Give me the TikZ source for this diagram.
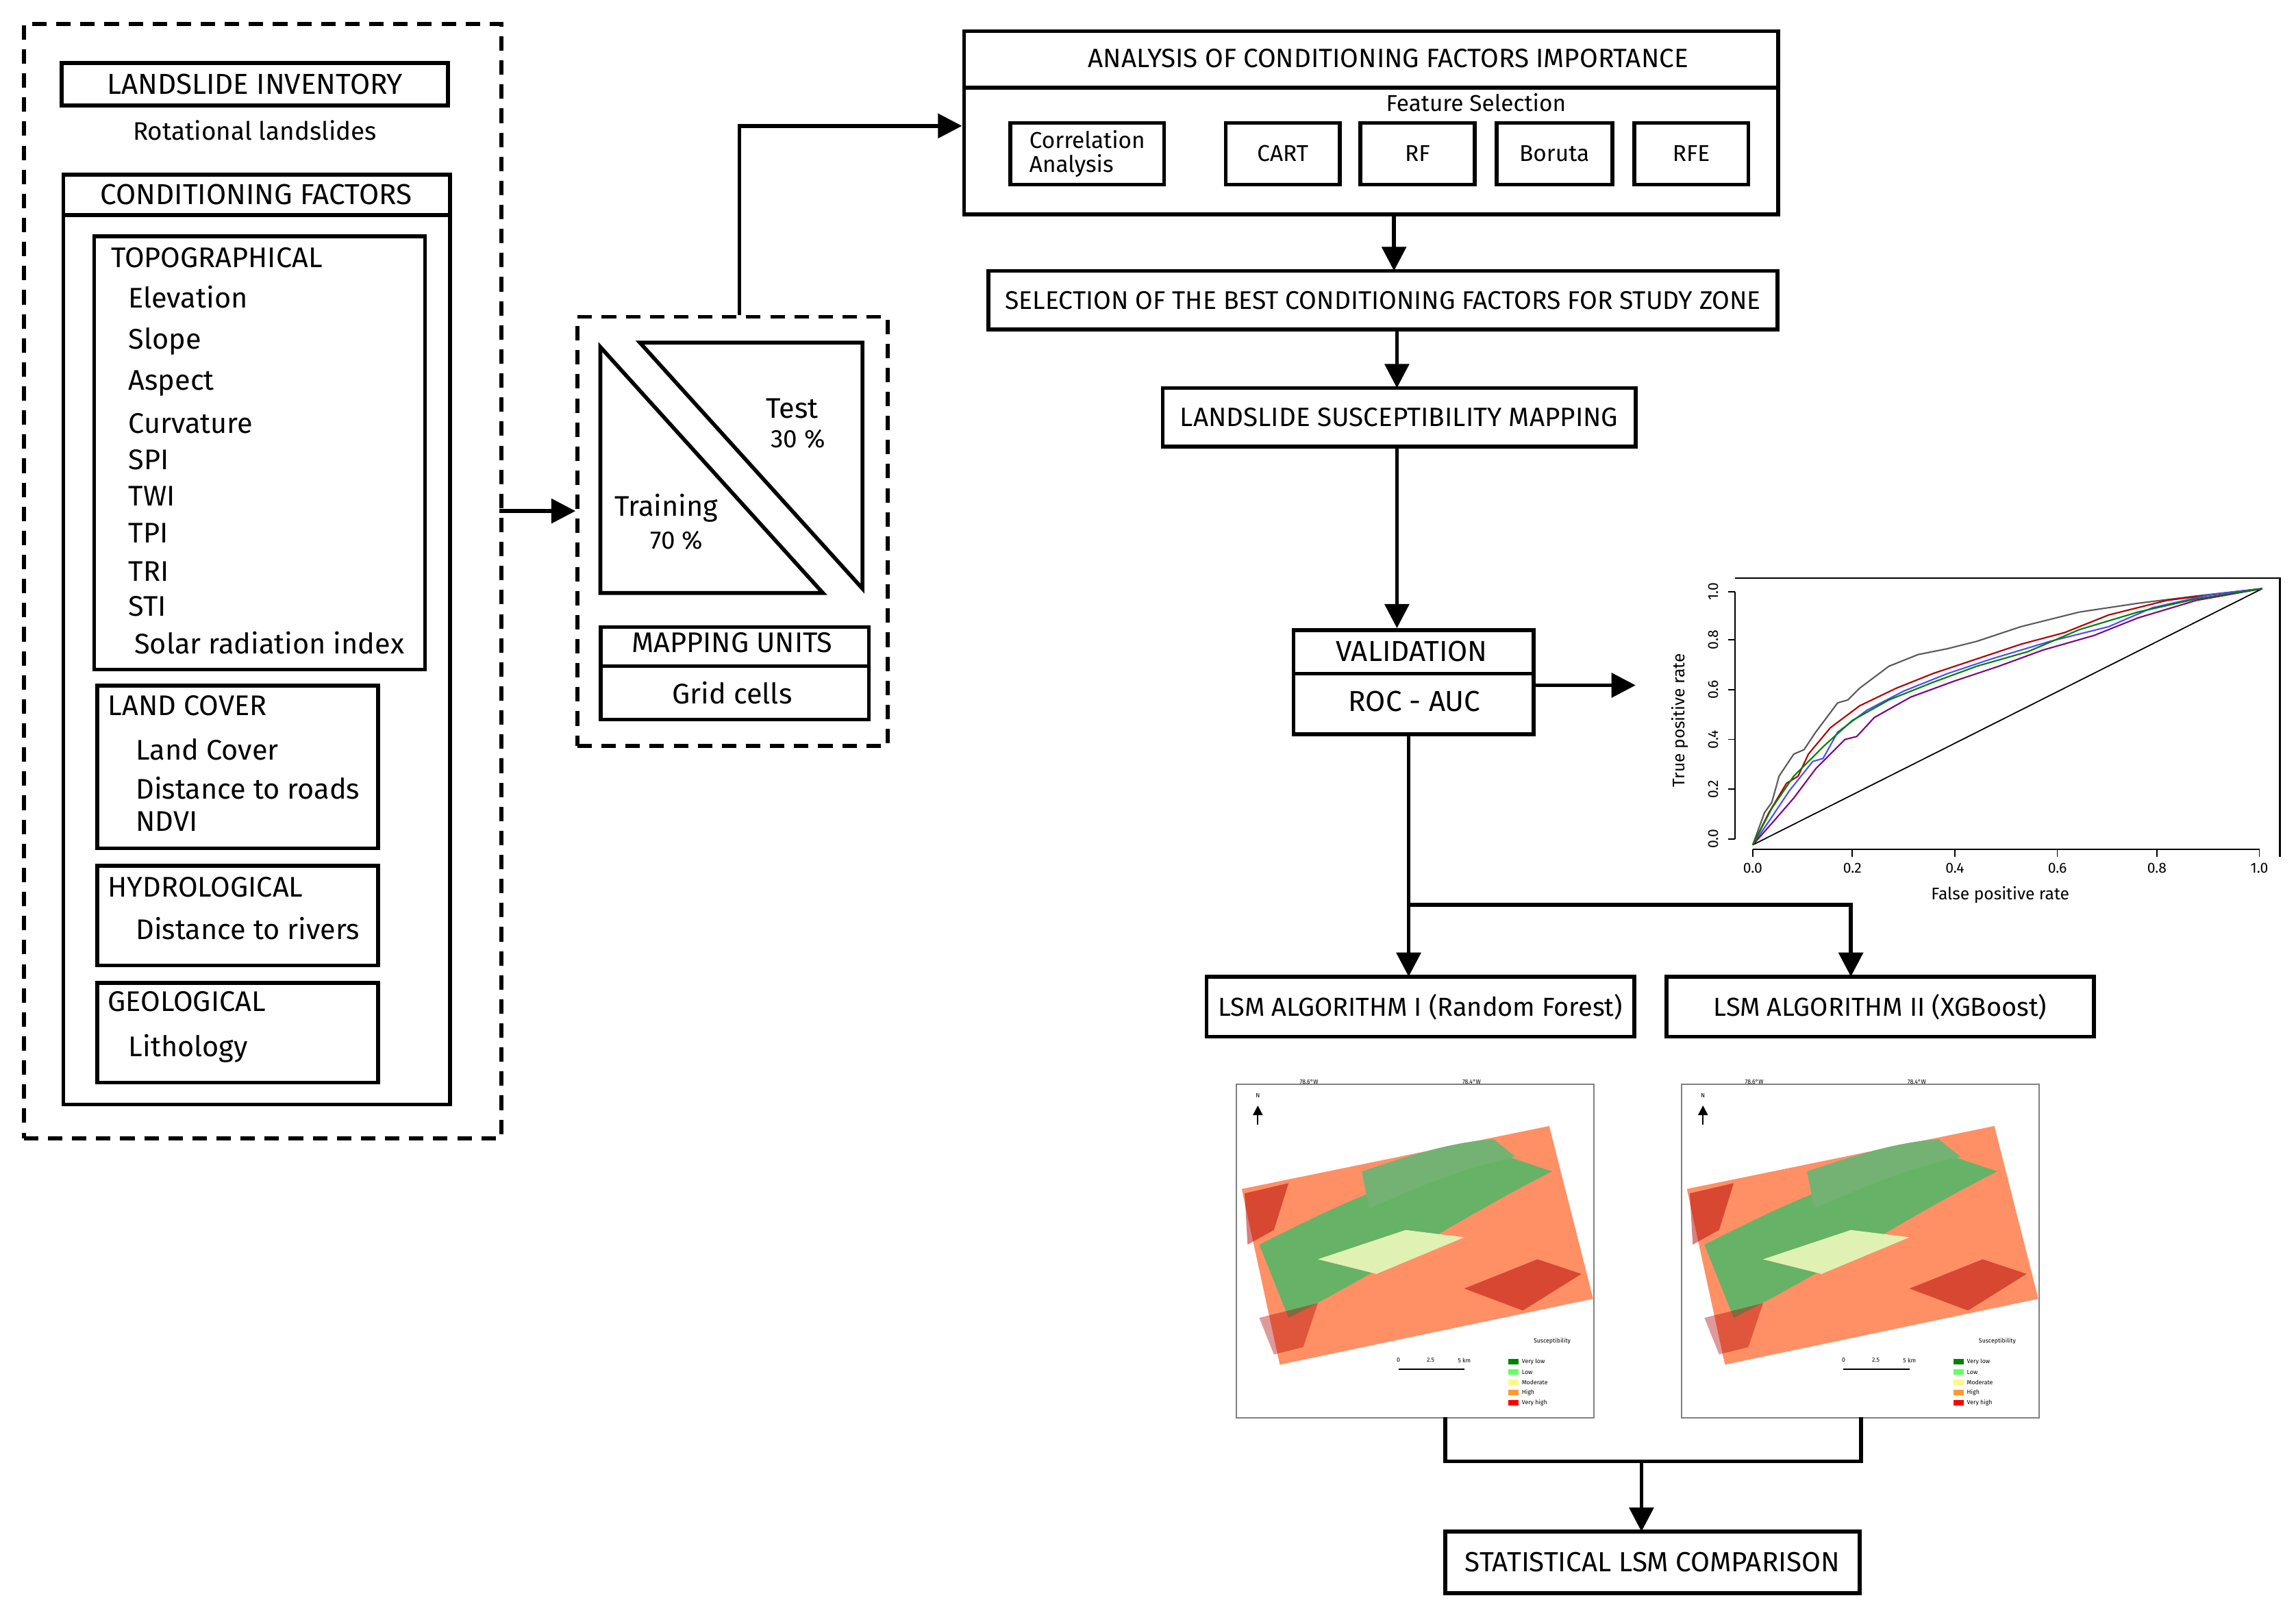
\documentclass[tikz,border=0pt]{standalone}
\usepackage{fontspec}
\setmainfont{Fira Sans}
\usetikzlibrary{arrows.meta}
\begin{document}
\begin{tikzpicture}[x=0.021378cm,y=-0.021378cm,
 box/.style={draw,line width=1.6pt},
 dbox/.style={draw,line width=1.6pt,dash pattern=on 6pt off 4pt},
 arr/.style={line width=1.6pt,-{Triangle[length=10pt,width=10pt]}},
 ln/.style={line width=1.6pt},
 t/.style={font=\fontsize{11}{12}\selectfont},
 it/.style={font=\fontsize{11.8}{13}\selectfont,anchor=west},
 st/.style={font=\fontsize{9.5}{10}\selectfont},
 tiny/.style={font=\fontsize{2.5}{3}\selectfont,inner sep=0pt}]
\useasboundingbox (0,0) rectangle (1568,1100);
% left
\node[dbox,minimum width=326*0.021378cm,minimum height=761*0.021378cm,anchor=north west] (outer) at (15,15) {};
\node[box,font=\fontsize{12}{13}\selectfont,minimum width=264*0.021378cm,minimum height=29*0.021378cm,inner sep=0] (inv) at (174,57.5) {LANDSLIDE INVENTORY};
\node[font=\fontsize{10.5}{11}\selectfont] (rot) at (174,89) {Rotational landslides};
\node[box,minimum width=264*0.021378cm,minimum height=635*0.021378cm,anchor=north west] (cf) at (42,118) {};
\draw[ln] (42,147) -- (306,147);
\node[font=\fontsize{12}{13}\selectfont] (cft) at (175,133) {CONDITIONING FACTORS};
\node[box,minimum width=226*0.021378cm,minimum height=296*0.021378cm,anchor=north west] (topo) at (63,160) {};
\node[it] at (70,176) {TOPOGRAPHICAL};
\foreach \s/\y in {Elevation/203,Slope/233,Aspect/262,Curvature/289,SPI/314,TWI/339,TPI/364,TRI/390,STI/414}
  \node[it] at (82,\y) {\s};
\node[it] at (86,439) {Solar radiation index};
\node[box,minimum width=192*0.021378cm,minimum height=111*0.021378cm,anchor=north west] (lc) at (65,467) {};
\node[it] at (68,482) {LAND COVER};
\node[it] at (87,512) {Land Cover};
\node[it] at (87,538) {Distance to roads};
\node[it] at (87,561) {NDVI};
\node[box,minimum width=192*0.021378cm,minimum height=68*0.021378cm,anchor=north west] (hy) at (65,590) {};
\node[it] at (68,606) {HYDROLOGICAL};
\node[it] at (87,634) {Distance to rivers};
\node[box,minimum width=192*0.021378cm,minimum height=68*0.021378cm,anchor=north west] (ge) at (65,670) {};
\node[it] at (68,684) {GEOLOGICAL};
\node[it] at (82,716) {Lithology};
% middle
\node[dbox,minimum width=212*0.021378cm,minimum height=293*0.021378cm,anchor=north west] (mid) at (393,215) {};
\draw[arr] (341,349) -- (mid.west|-0,349);
\draw[ln] (410,237) -- (410,405) -- (562,405) -- cycle;
\draw[ln] (437,234) -- (589,234) -- (589,402) -- cycle;
\node[it,anchor=center] at (455,347) {Training};
\node[font=\fontsize{10.5}{12}\selectfont] at (462,369) {70 \%};
\node[it,anchor=center] at (541,279) {Test};
\node[font=\fontsize{10.5}{12}\selectfont] at (545,300) {30 \%};
\node[box,minimum width=183*0.021378cm,minimum height=63*0.021378cm,anchor=north west] (mu) at (409,427) {};
\draw[ln] (409,455) -- (592,455);
\node[it,anchor=center] at (500,439) {MAPPING UNITS};
\node[it,anchor=center] at (500,473) {Grid cells};
% right
\node[box,minimum width=556*0.021378cm,minimum height=125*0.021378cm,anchor=north west] (an) at (657,20) {};
\draw[ln] (657,60) -- (1213,60);
\draw[arr] (505,215) |- (an.west|-0,86);
\node[t] at (948,40) {ANALYSIS OF CONDITIONING FACTORS IMPORTANCE};
\node[st] at (1008,70) {Feature Selection};
\node[box,minimum width=105*0.021378cm,minimum height=42*0.021378cm,align=left,st,inner sep=0] (corr) at (742.5,105) {Correlation\\Analysis};
\node[box,minimum width=78*0.021378cm,minimum height=42*0.021378cm,st,inner sep=0] (cart) at (876,105) {CART};
\node[box,minimum width=78*0.021378cm,minimum height=42*0.021378cm,st,inner sep=0] (rf) at (968,105) {RF};
\node[box,minimum width=79*0.021378cm,minimum height=42*0.021378cm,st,inner sep=0] (bor) at (1061.5,105) {Boruta};
\node[box,minimum width=78*0.021378cm,minimum height=42*0.021378cm,st,inner sep=0] (rfe) at (1155,105) {RFE};
\node[box,minimum width=539*0.021378cm,minimum height=40*0.021378cm,inner sep=0,font=\fontsize{10.6}{12}\selectfont] (sel) at (944.5,205) {SELECTION OF THE BEST CONDITIONING FACTORS FOR STUDY ZONE};
\draw[arr] (952,145) -- (952,185);
\node[box,minimum width=323*0.021378cm,minimum height=40*0.021378cm,inner sep=0,t] (lsm) at (955.5,285) {LANDSLIDE SUSCEPTIBILITY MAPPING};
\draw[arr] (954,225) -- (954,265);
\node[box,minimum width=164*0.021378cm,minimum height=71*0.021378cm,anchor=north west] (val) at (882,429) {};
\draw[ln] (882,460) -- (1046,460);
\node[font=\fontsize{12}{13}\selectfont] at (964,445) {VALIDATION};
\node[font=\fontsize{12}{13}\selectfont] at (966,479) {ROC - AUC};
\draw[arr] (954,305) -- (954,429);
\coordinate (rocin) at (1117,468);
\draw[arr] (1046,468) -- (rocin);
% ROC plot
\draw[line width=0.6pt] (1185,395) -- (1557,395) -- (1557,585);
\draw[line width=0.6pt] (1185,404) -- (1185,573);
\foreach \v/\y in {0.0/573,0.2/539,0.4/505,0.6/471,0.8/437,1.0/404}{
  \draw[line width=0.5pt] (1185,\y) -- (1180,\y);
  \node[rotate=90,font=\fontsize{6}{6}\selectfont] at (1170,\y) {\v};}
\foreach \v/\x in {0.0/1197,0.2/1265,0.4/1335,0.6/1405,0.8/1473,1.0/1543}{
  \draw[line width=0.5pt] (\x,580) -- (\x,585);
  \node[font=\fontsize{6}{6}\selectfont] at (\x,593) {\v};}
\draw[line width=0.5pt] (1197,580) -- (1543,580);
\node[font=\fontsize{7}{7}\selectfont] at (1366,611) {False positive rate};
\node[rotate=90,font=\fontsize{7}{7}\selectfont] at (1147,492) {True positive rate};
\draw[line width=0.5pt] (1197,577) -- (1545,402);
\draw[gray!70!black,line width=0.6pt] (1197,577) -- (1205,555) -- (1210,548) -- (1215,530) -- (1225,515) -- (1232,512) -- (1240,500) -- (1255,480) -- (1262,478) -- (1270,470) -- (1290,455) -- (1310,447) -- (1330,443) -- (1350,438) -- (1380,428) -- (1420,418) -- (1460,412) -- (1500,407) -- (1545,402);
\draw[red!70!black,line width=0.6pt] (1197,577) -- (1208,555) -- (1220,535) -- (1228,530) -- (1235,515) -- (1250,497) -- (1270,482) -- (1295,470) -- (1320,460) -- (1350,450) -- (1380,440) -- (1410,432) -- (1440,420) -- (1480,410) -- (1520,405) -- (1545,402);
\draw[blue!70,line width=0.6pt] (1197,577) -- (1210,558) -- (1222,540) -- (1238,520) -- (1245,518) -- (1255,500) -- (1275,485) -- (1300,472) -- (1330,460) -- (1360,450) -- (1400,438) -- (1440,428) -- (1470,415) -- (1510,406) -- (1545,402);
\draw[violet,line width=0.6pt] (1197,577) -- (1212,560) -- (1225,545) -- (1240,525) -- (1260,505) -- (1268,503) -- (1280,490) -- (1305,476) -- (1335,465) -- (1365,455) -- (1395,444) -- (1430,434) -- (1460,422) -- (1500,410) -- (1545,402);
\draw[green!50!black,line width=0.6pt] (1197,577) -- (1210,552) -- (1225,530) -- (1245,510) -- (1265,492) -- (1290,478) -- (1320,466) -- (1350,455) -- (1385,445) -- (1420,430) -- (1460,418) -- (1500,409) -- (1545,402);
% branches
\node[box,minimum width=292*0.021378cm,minimum height=41*0.021378cm,inner sep=0,font=\fontsize{10.8}{12}\selectfont] (a1) at (970,687.5) {LSM ALGORITHM I (Random Forest)};
\node[box,minimum width=292*0.021378cm,minimum height=41*0.021378cm,inner sep=0,font=\fontsize{10.8}{12}\selectfont] (a2) at (1284,687.5) {LSM ALGORITHM II (XGBoost)};
\draw[arr] (962,500) -- (962,667);
\draw[arr] (962,618) -| (1264,667);
% maps
\foreach \ox/\nm in {0/m1,304/m2}{
\begin{scope}[xshift=\ox*0.021378cm]
\node[draw=gray,line width=0.6pt,minimum width=244*0.021378cm,minimum height=228*0.021378cm,anchor=north west] (\nm) at (844,740) {};
\fill[red!45!orange!60!white] (848,812) -- (1058,769) -- (1088,887) -- (874,932) -- cycle;
\fill[green!50!black!60!white] (860,850) .. controls (920,820) and (960,800) .. (1030,790) -- (1060,800) .. controls (1000,830) and (940,870) .. (880,900) -- cycle;
\fill[green!45!black!55!white] (930,800) .. controls (960,790) and (990,780) .. (1020,778) -- (1035,790) .. controls (990,800) and (960,815) .. (935,825) -- cycle;
\fill[yellow!60!green!30!white] (900,860) -- (960,840) -- (1000,845) -- (940,870) -- cycle;
\fill[red!70!black,opacity=.5] (850,815) -- (880,808) -- (870,840) -- (852,850) -- cycle;
\fill[red!70!black,opacity=.5] (1000,880) -- (1050,860) -- (1080,870) -- (1040,895) -- cycle;
\fill[red!70!black,opacity=.4] (860,900) -- (900,890) -- (890,920) -- (870,925) -- cycle;
\draw[-{Triangle[length=4pt,width=4pt]},line width=0.6pt] (859,768) -- (859,755);
\node[tiny] at (859,748) {N};
\node[tiny] at (894,739) {78.6\textdegree W};
\node[tiny] at (1005,739) {78.4\textdegree W};
\node[tiny] at (1060,916) {Susceptibility};
\foreach \c/\l/\y in {green!50!black/Very low/930,green!60/Low/937,yellow!50/Moderate/944,orange!80/High/951,red/Very high/958}{
  \fill[\c] (1030,\y-2) rectangle (1037,\y+2);
  \node[tiny,anchor=west] at (1039,\y) {\l};}
\draw[line width=0.4pt] (955,935) -- (1000,935);
\node[tiny] at (955,929) {0};\node[tiny] at (977,929) {2.5};\node[tiny] at (1000,929) {5 km};
\end{scope}}
\node[box,minimum width=283*0.021378cm,minimum height=42*0.021378cm,inner sep=0,font=\fontsize{11.5}{12}\selectfont] (stat) at (1128.5,1067) {STATISTICAL LSM COMPARISON};
\draw[ln] (987,968) -- (987,998) -- (1271,998) -- (1271,968);
\draw[arr] (1121,998) -- (1121,1046);
\end{tikzpicture}
\end{document}
